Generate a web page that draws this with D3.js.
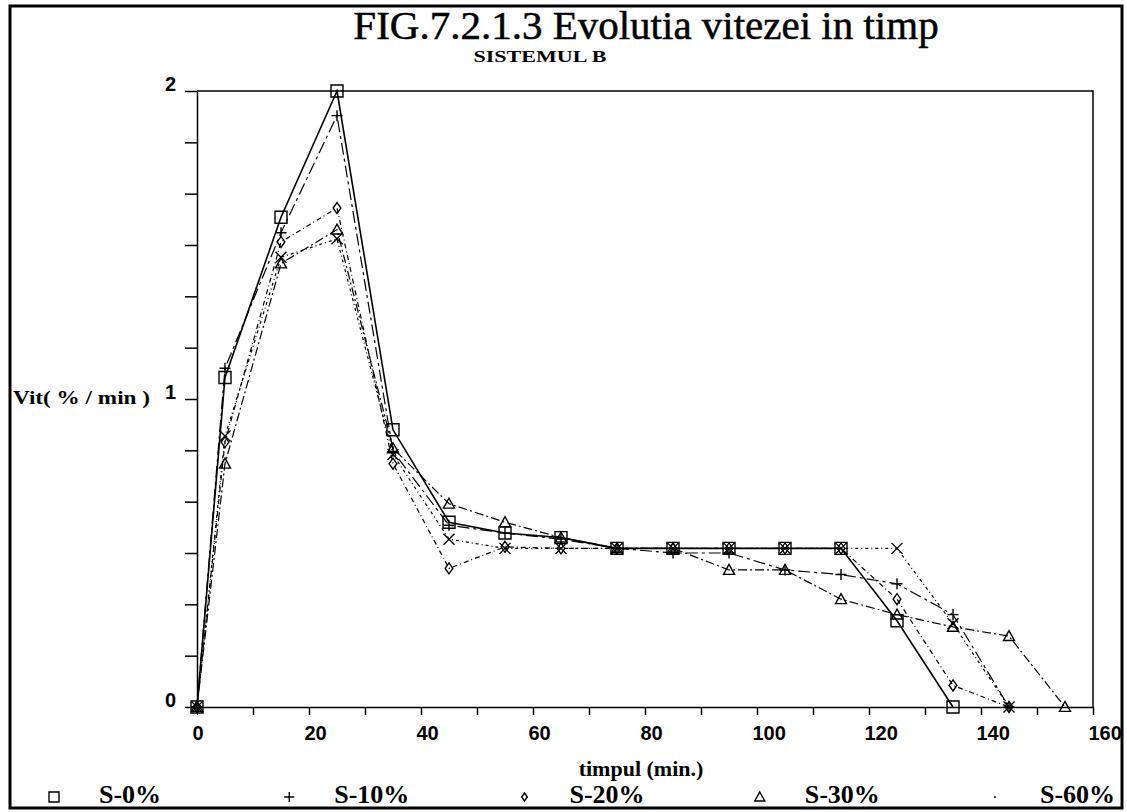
<!DOCTYPE html>
<html>
<head>
<meta charset="utf-8">
<script src="https://cdn.jsdelivr.net/npm/d3@7"></script>
<style>
  body { margin: 0; background: #fff; }
  svg { display: block; }
  .tick text { font-family: "Liberation Sans", Arial, sans-serif; font-weight: bold; font-size: 20px; fill: #000; }
</style>
</head>
<body>
<div id="chart"></div>
<script>
// FIG.7.2.1.3 - speed evolution over time, system B

const width = 1127,
  height = 812;

const margin = { top: 91, right: 32, bottom: 105, left: 197 };

// sampling times (min)
const times = [0, 5, 15, 25, 35, 45, 55, 65, 75, 85, 95, 105, 115, 125, 135, 145, 155];

// speed (%/min) per series; shorter arrays = series ended
const s0 = [0, 1.07, 1.59, 2.0, 0.9, 0.6, 0.565, 0.55, 0.515, 0.515, 0.515, 0.515, 0.515, 0.28, 0];
const s10 = [0, 1.1, 1.54, 1.92, 0.83, 0.59, 0.565, 0.545, 0.515, 0.5, 0.5, 0.445, 0.43, 0.4, 0.3, 0];
const s20 = [0, 0.86, 1.51, 1.62, 0.79, 0.45, 0.52, 0.515, 0.515, 0.515, 0.515, 0.515, 0.515, 0.35, 0.07, 0];
const s30 = [0, 0.79, 1.44, 1.55, 0.84, 0.66, 0.6, 0.55, 0.515, 0.515, 0.445, 0.445, 0.35, 0.3, 0.26, 0.23, 0];
const s60 = [0, 0.88, 1.46, 1.52, 0.82, 0.545, 0.515, 0.515, 0.515, 0.515, 0.515, 0.515, 0.515, 0.515, 0.27, 0];

const seriesNames = ["S-0%", "S-10%", "S-20%", "S-30%", "S-60%"];
const seriesValues = [s0, s10, s20, s30, s60];

const xTicks = d3.range(0, 161, 10);
const yTicks = d3.range(0, 12.5, 1).map(d => d / 6);

// per series look (marker + dash)
const markers = ["square", "plus", "diamond", "triangle", "cross"];
const dashes = [null, "12,4,3,4", "5,3,1,3", "9,3,2,3", "3,3,1,3"];

const svg = d3.select("#chart")
  .append("svg")
  .attr("width", width)
  .attr("height", height)
  .attr("viewBox", [0, 0, width, height]);

// outer frame
svg.append("rect")
  .attr("x", 10)
  .attr("y", 6)
  .attr("width", 1112)
  .attr("height", 802)
  .attr("fill", "none")
  .attr("stroke", "#000")
  .attr("stroke-width", 3);

const x = d3.scaleLinear()
  .domain([0, 160])
  .range([margin.left, width - margin.right - 2]);

const y = d3.scaleLinear()
  .domain([0, 2])
  .range([height - margin.bottom, margin.top]);

// titles
svg.append("text")
  .attr("x", 646)
  .attr("y", 39)
  .attr("text-anchor", "middle")
  .attr("font-family", "Liberation Serif, serif")
  .attr("font-size", 41)
  .attr("stroke", "#000")
  .attr("stroke-width", 0.5)
  .text("FIG.7.2.1.3 Evolutia vitezei in timp");

svg.append("text")
  .attr("x", 540)
  .attr("y", 62)
  .attr("text-anchor", "middle")
  .attr("font-family", "Liberation Serif, serif")
  .attr("font-weight", "bold")
  .attr("font-size", 17)
  .attr("textLength", 133)
  .attr("lengthAdjust", "spacingAndGlyphs")
  .text("SISTEMUL B");

// frame lines top/right
svg.append("path")
  .attr("d", `M${x(0)},${y(2)}H${x(160)}V${y(0)}`)
  .attr("fill", "none")
  .attr("stroke", "#000")
  .attr("stroke-width", 1.5);

// axes
const yAxis = svg.append("g")
  .attr("transform", `translate(${x(0)},0)`)
  .call(d3.axisLeft(y)
    .tickValues(yTicks)
    .tickSize(12)
    .tickSizeOuter(0)
    .tickPadding(9)
    .tickFormat(d => Math.abs(d - Math.round(d)) < 1e-6 ? Math.round(d) : ""));
yAxis.selectAll("text").attr("dy", "-1");

const xAxis = svg.append("g")
  .attr("transform", `translate(0,${y(0)})`)
  .call(d3.axisBottom(x)
    .tickValues(xTicks)
    .tickSize(8)
    .tickSizeOuter(0)
    .tickFormat(d => d % 20 === 0 ? d : ""));
xAxis.selectAll("text")
  .attr("text-anchor", "start")
  .attr("x", -5)
  .attr("y", 33)
  .attr("dy", 0);

svg.selectAll(".domain, .tick line")
  .attr("stroke", "#000")
  .attr("stroke-width", 1.5);

// axis titles
svg.append("text")
  .attr("x", 13)
  .attr("y", 404)
  .attr("font-family", "Liberation Serif, serif")
  .attr("font-weight", "bold")
  .attr("font-size", 19)
  .attr("textLength", 137)
  .attr("lengthAdjust", "spacingAndGlyphs")
  .text("Vit( % / min )");

svg.append("text")
  .attr("x", 641)
  .attr("y", 776)
  .attr("text-anchor", "middle")
  .attr("font-family", "Liberation Serif, serif")
  .attr("font-weight", "bold")
  .attr("font-size", 22)
  .text("timpul (min.)");

// marker shapes
function markerPath(type, s) {
  const h = s / 2;
  switch (type) {
    case "square": return `M${-h},${-h}h${s}v${s}h${-s}Z`;
    case "plus": return `M${-h},0h${s}M0,${-h}v${s}`;
    case "diamond": return `M0,${-h}L${h * 0.7},0L0,${h}L${-h * 0.7},0Z`;
    case "triangle": return `M0,${-h}L${h},${h * 0.8}L${-h},${h * 0.8}Z`;
    case "cross": return `M${-h},${-h}L${h},${h}M${h},${-h}L${-h},${h}`;
    case "dot": return `M-1,0h2`;
  }
}

const line = d3.line()
  .x(d => x(d.t))
  .y(d => y(d.v));

const series = seriesNames.map((name, i) => ({
  name,
  marker: markers[i],
  dash: dashes[i],
  points: seriesValues[i].map((v, j) => ({ t: times[j], v }))
}));

const plot = svg.append("g");

plot.selectAll("path.line")
  .data(series)
  .join("path")
  .attr("class", "line")
  .attr("d", d => line(d.points))
  .attr("fill", "none")
  .attr("stroke", "#000")
  .attr("stroke-width", (d, i) => i === 0 ? 1.6 : 1.2)
  .attr("stroke-dasharray", d => d.dash);

plot.selectAll("g.marks")
  .data(series)
  .join("g")
  .attr("class", "marks")
  .each(function(s) {
    d3.select(this)
      .selectAll("path")
      .data(s.points)
      .join("path")
      .attr("transform", d => `translate(${x(d.t)},${y(d.v)})`)
      .attr("d", markerPath(s.marker, s.marker === "square" ? 12 : 11))
      .attr("fill", "none")
      .attr("stroke", "#000")
      .attr("stroke-width", 1.4);
  });

// legend along the bottom
const legendX = d3.scalePoint()
  .domain(seriesNames)
  .range([54, 995]);

const legend = svg.append("g")
  .selectAll("g")
  .data(series)
  .join("g")
  .attr("transform", d => `translate(${legendX(d.name)},0)`);

legend.append("path")
  .attr("transform", "translate(0,797)")
  .attr("d", d => markerPath(d.marker === "cross" ? "dot" : d.marker, d.marker === "diamond" ? 8 : 10))
  .attr("fill", "none")
  .attr("stroke", "#000")
  .attr("stroke-width", 1.4);

legend.append("text")
  .attr("x", 45)
  .attr("y", 803)
  .attr("font-family", "Liberation Serif, serif")
  .attr("font-weight", "bold")
  .attr("font-size", 26)
  .text(d => d.name);
</script>
</body>
</html>
